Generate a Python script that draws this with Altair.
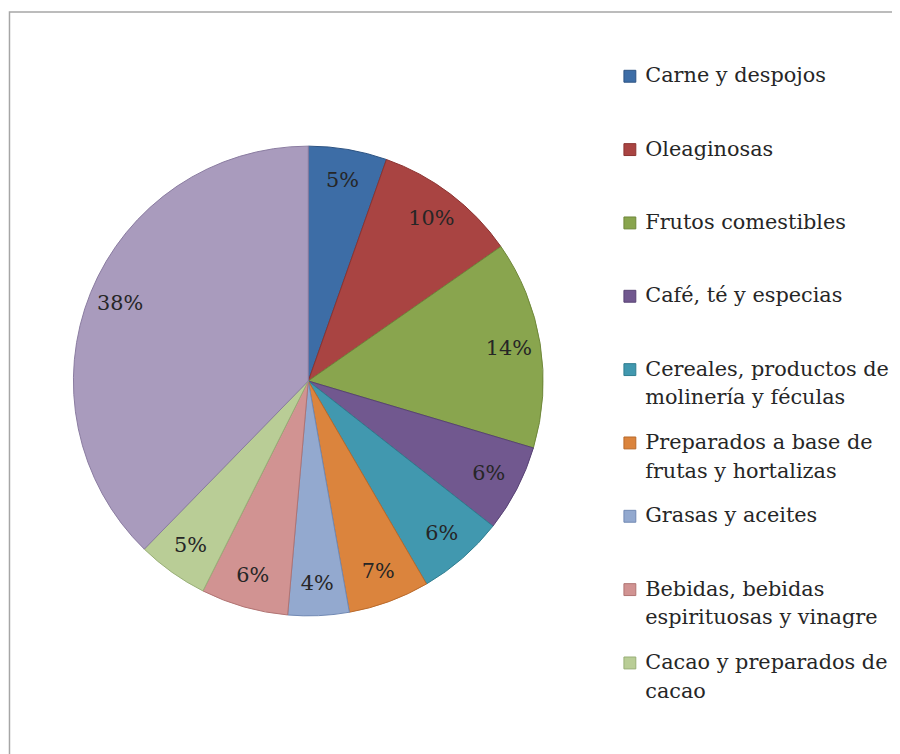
import altair as alt
import pandas as pd

categories = [
    "Carne y despojos",
    "Oleaginosas",
    "Frutos comestibles",
    "Café, té y especias",
    "Cereales, productos de molinería y féculas",
    "Preparados a base de frutas y hortalizas",
    "Grasas y aceites",
    "Bebidas, bebidas espirituosas y vinagre",
    "Cacao y preparados de cacao",
    "Otros",
]
# slice shares (angles of the slice edges)
shares = [5.4, 9.9, 14.3, 6.0, 6.0, 5.6, 4.2, 6.0, 4.9, 37.7]
labels = ["5%", "10%", "14%", "6%", "6%", "7%", "4%", "6%", "5%", "38%"]
legend_lines = [
    ["Carne y despojos", ""],
    ["Oleaginosas", ""],
    ["Frutos comestibles", ""],
    ["Café, té y especias", ""],
    ["Cereales, productos de", "molinería y féculas"],
    ["Preparados a base de", "frutas y hortalizas"],
    ["Grasas y aceites", ""],
    ["Bebidas, bebidas", "espirituosas y vinagre"],
    ["Cacao y preparados de", "cacao"],
]
fills = ["#3D6DA6", "#A94442", "#89A54E", "#71588F", "#4198AF",
         "#DB843D", "#93A9CF", "#D19392", "#B9CD96", "#A99BBD"]
strokes = ["#2C5282", "#8B3331", "#6E873A", "#574273", "#2F7C8F",
           "#B8692B", "#7089B3", "#B07372", "#98AE76", "#8A7BA0"]

df = pd.DataFrame({
    "idx": list(range(len(categories))),
    "category": categories,
    "share": shares,
    "label": labels,
})

def esc(s):
    return s.replace("'", "\\'")

expr = "[datum.label, '']"
for full, lines in zip(categories[:9], legend_lines):
    arr = "[" + ", ".join("'" + esc(l) + "'" for l in lines) + "]"
    expr = f"datum.label == '{esc(full)}' ? {arr} : ({expr})"

FONT = "DejaVu Serif"
CX, CY, R = 303, 373, 237

legend = alt.Legend(
    title=None,
    orient="none",
    legendX=617,
    legendY=55,
    values=categories[:9],
    symbolType="square",
    symbolSize=144,
    symbolStrokeWidth=1,
    labelFont=FONT,
    labelFontSize=21,
    labelColor="#262626",
    labelOffset=5,
    labelLimit=400,
    labelExpr=expr,
    rowPadding=23,
    padding=0,
)

base = alt.Chart(df)

frame = alt.Chart(pd.DataFrame({"a": [0]})).mark_rect(
    fill="white", stroke="#A6A6A6", strokeWidth=1.5
).encode(
    x=alt.value(1.5), x2=alt.value(3000), y=alt.value(0.75), y2=alt.value(3000)
)

pie = base.mark_arc(radius=R, strokeWidth=1).encode(
    theta=alt.Theta("share:Q", stack=True),
    order=alt.Order("idx:Q"),
    color=alt.Color("category:N",
                    scale=alt.Scale(domain=categories, range=fills),
                    legend=legend),
    stroke=alt.Stroke("category:N",
                      scale=alt.Scale(domain=categories, range=strokes),
                      legend=legend),
    x=alt.value(CX),
    y=alt.value(CY),
)

text = base.mark_text(radius=205, font=FONT, fontSize=21, color="#262626").encode(
    theta=alt.Theta("share:Q", stack=True),
    order=alt.Order("idx:Q"),
    text="label:N",
    x=alt.value(CX),
    y=alt.value(CY),
)

chart = alt.layer(frame, pie, text).properties(
    width=892, height=746,
    padding=0,
    autosize=alt.AutoSizeParams(type="none"),
).configure(
    view={"stroke": "transparent"},
    style={"guide-label": {"lineHeight": 29}},
)

chart.save("out.html", embed_options={"renderer": "svg", "actions": False})
